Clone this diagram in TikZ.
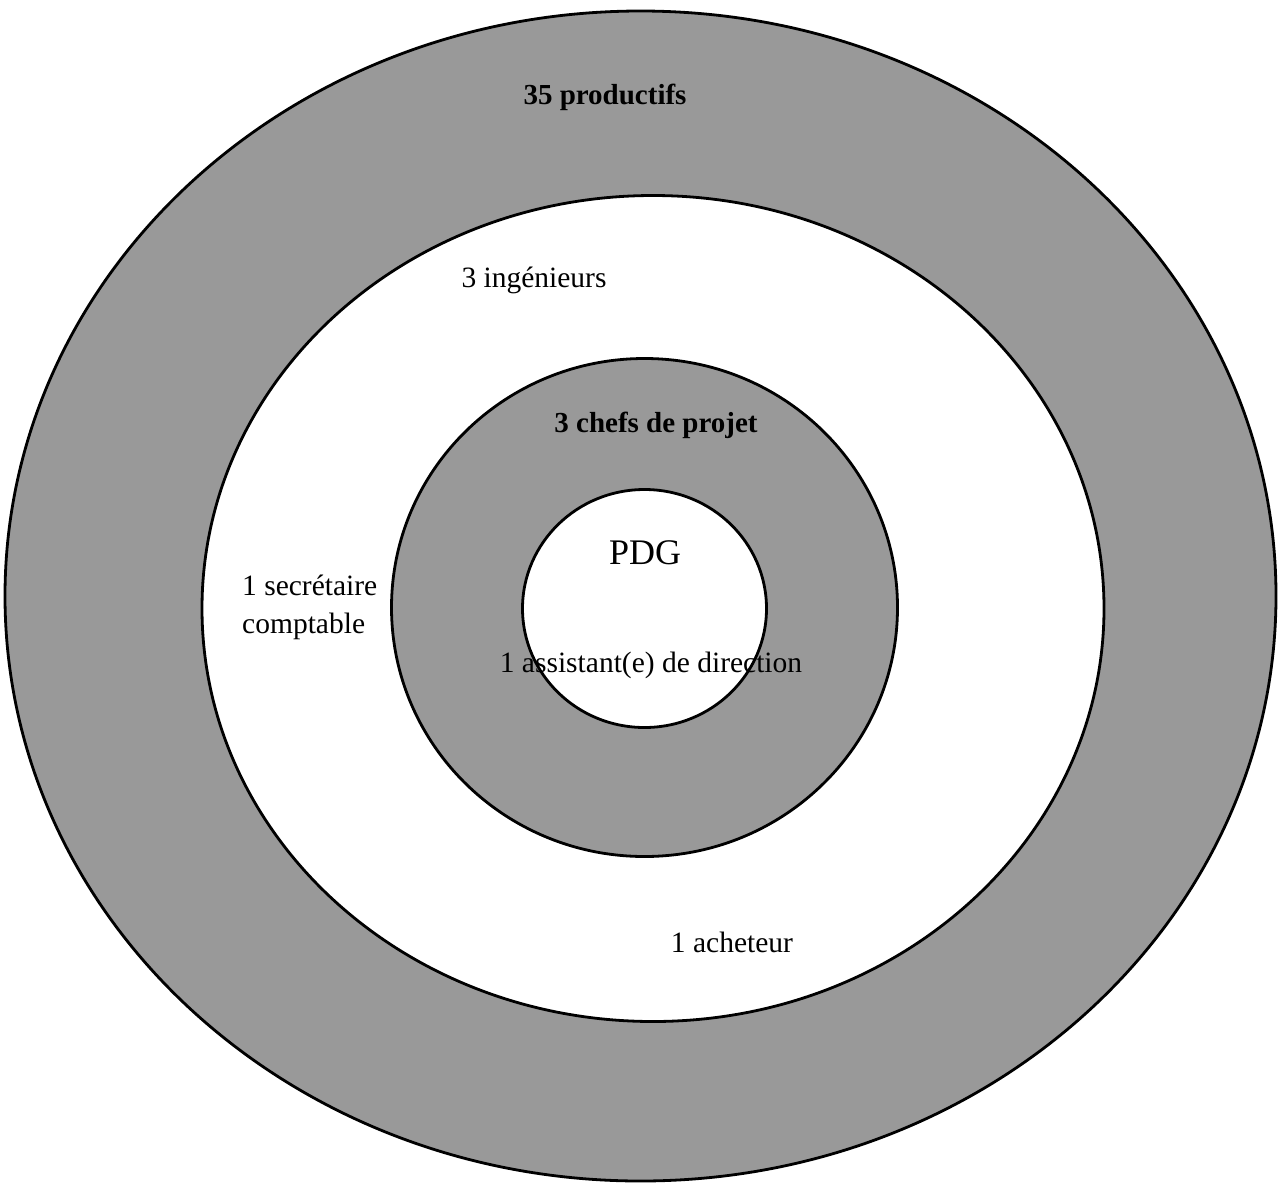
\documentclass[tikz,border=0pt]{standalone}
\usepackage{fontspec}
\setmainfont{Liberation Serif}
\begin{document}
\begin{tikzpicture}[x=1pt,y=-1pt,
  ring/.style={draw=black,line width=2.8pt},
  grayring/.style={ring,fill=black!40},
  whitering/.style={ring,fill=white},
  lbl/.style={font=\fontsize{29.5}{38}\selectfont,inner sep=0pt},
  boldlbl/.style={font=\fontsize{29}{38}\selectfont\bfseries,inner sep=0pt},
  biglbl/.style={font=\fontsize{36}{40}\selectfont,inner sep=0pt}]
\useasboundingbox (0,0) rectangle (1279,1184);
\fill[white] (0,0) rectangle (1279,1184);
% rings
\path[grayring]  (640.5,596)   ellipse [x radius=635.5pt, y radius=585pt];
\path[whitering] (653,608.5)   ellipse [x radius=451pt,   y radius=413pt];
\path[grayring]  (644.5,607.5) ellipse [x radius=253pt,   y radius=249pt];
\path[whitering] (644.5,608.5) ellipse [x radius=122pt,   y radius=119pt];
% labels
\node[boldlbl] (prod) at (605,97) {35 productifs};
\node[lbl] (ing) at (534,280) {3 ingénieurs};
\node[boldlbl] (chefs) at (656,425) {3 chefs de projet};
\node[biglbl] (pdg) at (645,553) {PDG};
\node[lbl] (assist) at (651,665) {1 assistant(e) de direction};
\node[lbl,align=left,anchor=west] (secr) at (242,607) {1 secrétaire\\comptable};
\node[lbl] (ach) at (732,942) {1 acheteur};
\end{tikzpicture}
\end{document}
